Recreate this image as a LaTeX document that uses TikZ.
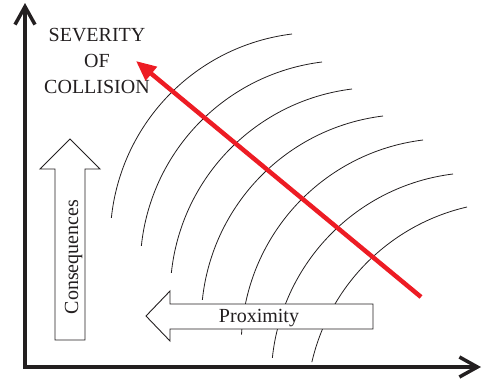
\documentclass[tikz,border=0pt]{standalone}
\usepackage{fontspec}
\setmainfont{Liberation Serif}
\usepackage{xcolor}
\usepackage{tikz}
\usetikzlibrary{arrows.meta}

\definecolor{inkgray}{RGB}{35,31,32}
\definecolor{arrowred}{RGB}{237,28,36}

\begin{document}
\begin{tikzpicture}[x=1pt, y=-1pt, >={Straight Barb[length=18pt,width=20pt]},
    axis/.style={draw=inkgray, line width=3.5pt, <->},
    wave/.style={draw=inkgray, line width=0.8pt},
    blockarrow/.style={draw=inkgray, fill=white, line width=0.9pt},
    lbl/.style={text=inkgray, font=\fontsize{20}{26}\selectfont, inner sep=0pt}]
    \useasboundingbox (0,0) rectangle (482,381);

    % các cung đồng tâm
    \foreach \tx/\ty/\sa/\ea in {292/34/-97/-174, 322/62/-97/-174, 352/89/-97/-174,
        383/116/-97/-174, 423/140/-97/-177, 453/174/-97/-174, 467/207/-103/-167}
        \draw[wave] (\tx,\ty) arc[start angle=\sa, end angle=\ea, radius=207];

    % mũi tên khối
    \draw[blockarrow] (55,340) -- (55,169) -- (40,169) -- (70,139) -- (100,169) -- (85,169) -- (85,340) -- cycle;
    \node[lbl, rotate=90, anchor=base] (conseq) at (78,257) {Consequences};
    \draw[blockarrow] (373,304) -- (170,304) -- (170,291) -- (146,316) -- (170,341) -- (170,329) -- (373,329) -- cycle;
    \node[lbl, anchor=base] (prox) at (259,322) {Proximity};

    \node[lbl, align=center] (severity) at (97,61) {SEVERITY\\OF\\COLLISION};

    % mũi tên đỏ
    \coordinate (rstart) at (421,297);
    \coordinate (rtip) at (136,61);
    \draw[arrowred, line width=4.5pt, -{Triangle[length=20pt,width=17pt]}] (rstart) -- (rtip);

    % trục
    \coordinate (ytip) at (25,3);
    \coordinate (origin) at (25,367);
    \coordinate (xtip) at (481,367);
    \draw[axis] (ytip) -- (origin) -- (xtip);
\end{tikzpicture}
\end{document}
